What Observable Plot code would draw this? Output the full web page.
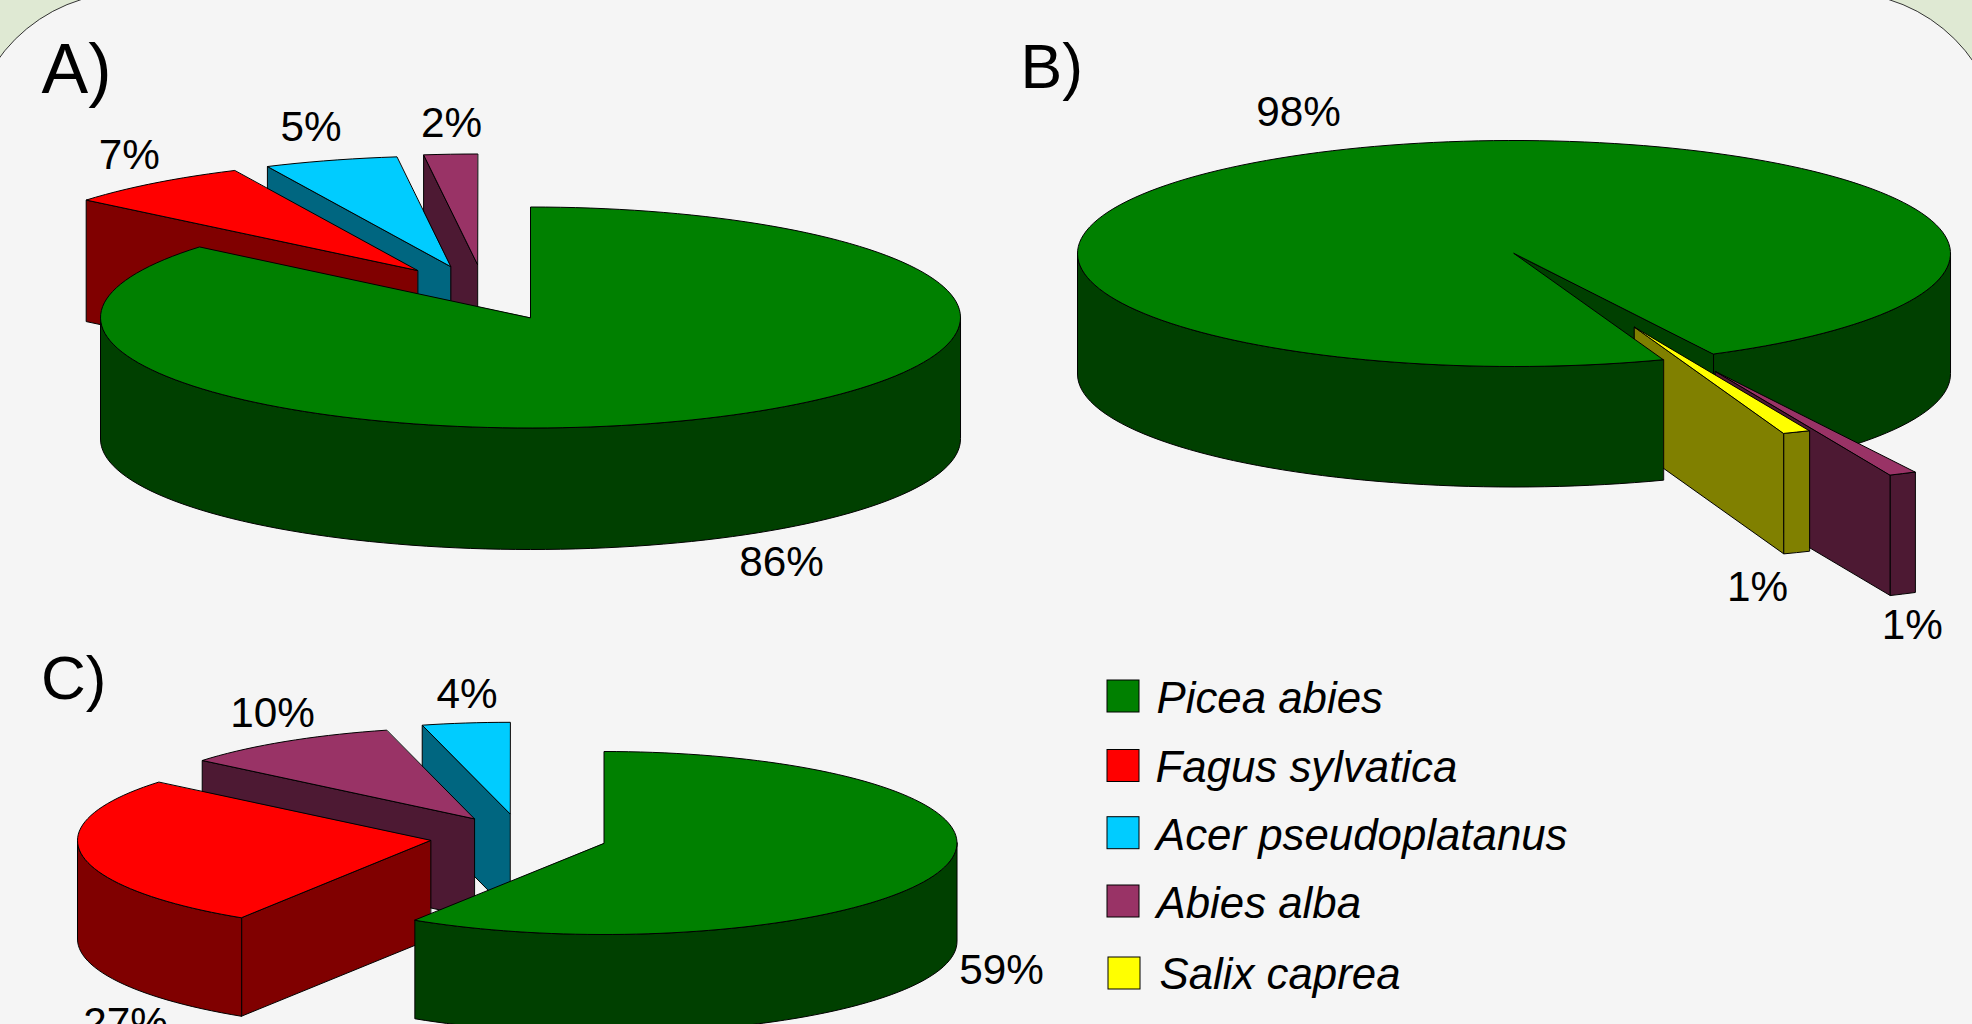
<!DOCTYPE html>
<html>
<head>
<meta charset="utf-8">
<style>
  html, body { margin: 0; padding: 0; width: 1972px; height: 1024px; overflow: hidden; background: #dfe9d3; }
  #sheet { position: absolute; left: -32px; right: -30px; top: -8px; height: 1400px; box-sizing: border-box;
           background: #f5f5f5; border: 1.5px solid #333; border-radius: 160px; }
  #chart { position: absolute; left: 0; top: 0; width: 1972px; height: 1024px; overflow: hidden; }
  #chart svg { display: block; }
</style>
<script src="https://cdn.jsdelivr.net/npm/d3@7"></script>
<script src="https://cdn.jsdelivr.net/npm/@observablehq/plot@0.6"></script>
</head>
<body>
<div id="sheet"></div>
<div id="chart"></div>
<script>
// Species and their colours
const speciesNames = ["Picea abies", "Fagus sylvatica", "Acer pseudoplatanus", "Abies alba", "Salix caprea"];
const topColors = ["#008000", "#ff0000", "#00ccff", "#993366", "#ffff00"];
const sideColors = ["#004000", "#800000", "#006680", "#4d1933", "#808000"];

// Stand composition, in percent, clockwise around each pie
const speciesA = ["Picea abies", "Fagus sylvatica", "Acer pseudoplatanus", "Abies alba"];
const sharesA = [86, 7, 5, 2];
const speciesB = ["Picea abies", "Abies alba", "Salix caprea"];
const sharesB = [98, 1, 1];
const speciesC = ["Picea abies", "Fagus sylvatica", "Abies alba", "Acer pseudoplatanus"];
const sharesC = [59, 27, 10, 4];

// Where each pie sits: ellipse, extrusion depth, first angle, and how far each slice is pulled out
const layoutA = {cx: 530, cy: 317, rx: 430, ry: 110.5, depth: 121.5, start: 0,
  pull: [[0, 0], [-113, -47], [-80, -51], [-53, -53]],
  labels: [[781, 575.5], [128.7, 168], [310.6, 140], [451, 136.5]]};
const layoutB = {cx: 1513.5, cy: 253, rx: 436.5, ry: 113, depth: 120.5, start: 160,
  pull: [[0, 0], [201.5, 118], [120.5, 73.7]],
  labels: [[1298, 125.5], [1911.8, 638.5], [1757, 600.5]]};
const layoutC = {cx: 603.5, cy: 842.5, rx: 353, ry: 91.5, depth: 98.5, start: 0,
  pull: [[0, 0], [-173.5, -2.5], [-129.8, -24.2], [-94, -29.2]],
  labels: [[1001, 983.5], [125, 1036.5], [272, 726.5], [466.6, 707.5]]};

const panelLetters = [
  {text: "A)", x: 41, y: 92, size: 70},
  {text: "B)", x: 1020, y: 87.5, size: 62.5},
  {text: "C)", x: 40.5, y: 698, size: 62}
];
const legendRows = [
  {box: 1107, top: 680, textX: 1156, base: 712},
  {box: 1107, top: 749.5, textX: 1155, base: 781.7},
  {box: 1107, top: 816.7, textX: 1155.5, base: 849},
  {box: 1107, top: 885, textX: 1156, base: 917},
  {box: 1108, top: 957, textX: 1159, base: 988.5}
];

const rad = Math.PI / 180;

// Point on a slice's ellipse; angles run clockwise from twelve o'clock
const rimPoint = (g, ox, oy, deg, drop = 0) => [
  g.cx + ox + g.rx * Math.sin(deg * rad),
  g.cy + oy - g.ry * Math.cos(deg * rad) + drop
];

const arcPoints = (g, ox, oy, from, to, drop = 0) => {
  const n = Math.max(2, Math.ceil((to - from) / 2));
  return d3.range(n + 1).map((i) => rimPoint(g, ox, oy, from + ((to - from) * i) / n, drop));
};

// Split a slice into the faces a viewer above the pie can see
function sliceFaces(g, name, share, a0, pull) {
  const a1 = a0 + share * 3.6;
  const [ox, oy] = pull;
  const k = speciesNames.indexOf(name);
  const apex = [g.cx + ox, g.cy + oy];
  const wall = (deg) => {
    const p = rimPoint(g, ox, oy, deg);
    return [apex, p, [p[0], p[1] + g.depth], [apex[0], apex[1] + g.depth]];
  };
  const walls = [];
  if (Math.sin(a0 * rad) < -1e-9) walls.push({points: wall(a0), fill: sideColors[k]});
  if (Math.sin(a1 * rad) > 1e-9) walls.push({points: wall(a1), fill: sideColors[k]});
  const rims = [];
  for (const turn of [0, 360]) {
    const from = Math.max(a0, 90 + turn);
    const to = Math.min(a1, 270 + turn);
    if (to > from) {
      rims.push({
        points: [...arcPoints(g, ox, oy, from, to), ...arcPoints(g, ox, oy, from, to, g.depth).reverse()],
        fill: sideColors[k]
      });
    }
  }
  const top = {points: [apex, ...arcPoints(g, ox, oy, a0, a1)], fill: topColors[k]};
  return {walls, rims, top};
}

function pieFaces(g, names, shares) {
  let a = g.start;
  return names.map((name, i) => {
    const f = sliceFaces(g, name, shares[i], a, g.pull[i]);
    a += shares[i] * 3.6;
    return f;
  });
}

const flat = (f) => [...f.walls, ...f.rims, f.top];

// A and C paint the pulled-out slices from back to front, the main slice last
const facesA = pieFaces(layoutA, speciesA, sharesA);
const facesC = pieFaces(layoutC, speciesC, sharesC);
const paintA = [facesA[3], facesA[2], facesA[1], facesA[0]].flatMap(flat);
const paintC = [facesC[3], facesC[2], facesC[1], facesC[0]].flatMap(flat);

// In B the two thin slices pass in front of the right rim and the notch wall, but behind the left part
const [pieB, abiesB, salixB] = pieFaces(layoutB, speciesB, sharesB);
const paintB = [pieB.rims[1], ...pieB.walls, ...flat(abiesB), ...flat(salixB), pieB.rims[0], pieB.top];

const faceMark = (f) => Plot.line(f.points, {
  x: (d) => d[0], y: (d) => d[1],
  fill: f.fill, stroke: "#000", strokeWidth: 1,
  curve: "linear-closed", strokeLinejoin: "miter"
});

const sansFont = "Liberation Sans, Arial, sans-serif";

const percentLabels = [
  ...sharesA.map((v, i) => ({text: `${v}%`, x: layoutA.labels[i][0], y: layoutA.labels[i][1]})),
  ...sharesB.map((v, i) => ({text: `${v}%`, x: layoutB.labels[i][0], y: layoutB.labels[i][1]})),
  ...sharesC.map((v, i) => ({text: `${v}%`, x: layoutC.labels[i][0], y: layoutC.labels[i][1]}))
];

const legendTable = speciesNames.map((name, i) => ({name, fill: topColors[i], ...legendRows[i]}));

const chart = Plot.plot({
  width: 1972,
  height: 1024,
  margin: 0,
  x: {domain: [0, 1972], range: [0, 1972], axis: null},
  y: {domain: [0, 1024], range: [0, 1024], axis: null},
  style: {background: "transparent", overflow: "hidden"},
  marks: [
    ...paintA.map(faceMark),
    ...paintB.map(faceMark),
    ...paintC.map(faceMark),
    Plot.text(percentLabels, {
      x: "x", y: "y", text: "text", fontSize: 42.3, fontFamily: sansFont,
      fill: "#000", textAnchor: "middle", lineAnchor: "bottom"
    }),
    ...panelLetters.map((d) => Plot.text([d], {
      x: "x", y: "y", text: "text", fontSize: d.size, fontFamily: sansFont,
      fill: "#000", textAnchor: "start", lineAnchor: "bottom"
    })),
    Plot.rect(legendTable, {
      x1: "box", x2: (d) => d.box + 32, y1: "top", y2: (d) => d.top + 32,
      fill: "fill", stroke: "#000", strokeWidth: 1
    }),
    Plot.text(legendTable, {
      x: "textX", y: "base", text: "name", fontSize: 43.8, fontFamily: sansFont, fontStyle: "italic",
      fill: "#000", textAnchor: "start", lineAnchor: "bottom"
    })
  ],
  color: {type: "identity"}
});

document.getElementById("chart").appendChild(chart);
</script>
</body>
</html>
